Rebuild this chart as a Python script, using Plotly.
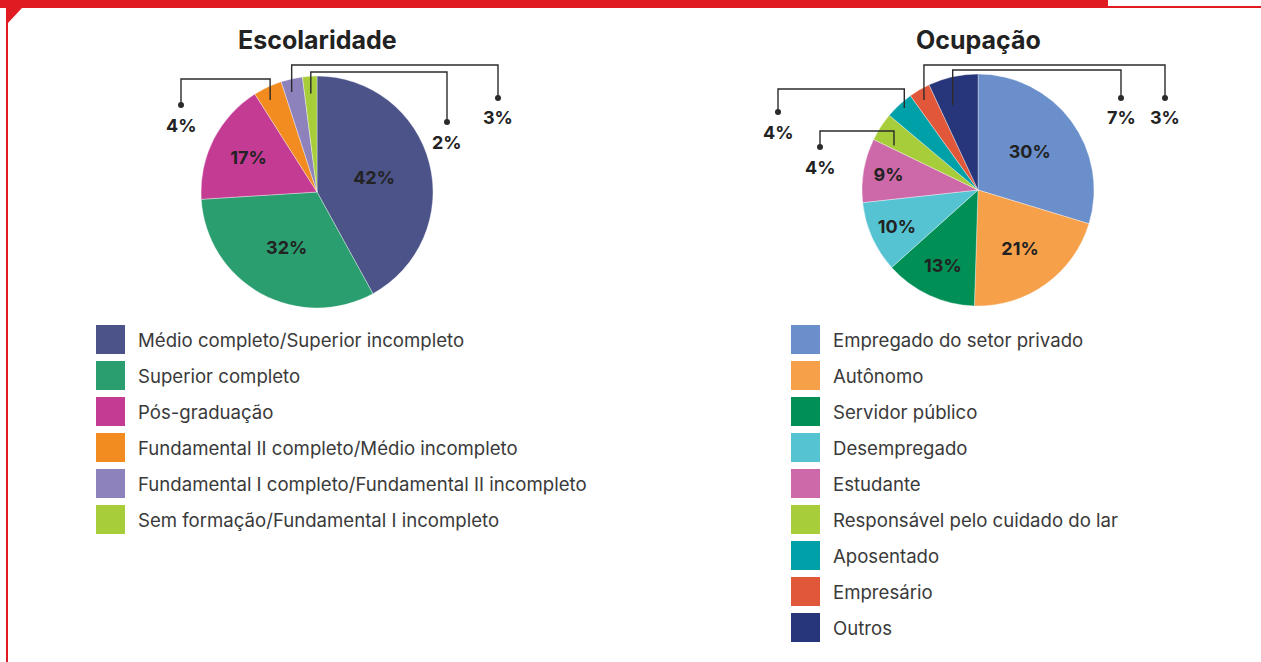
import math
import plotly.graph_objects as go

W, H = 1261, 662

# ---------------- data ----------------
esc_title = "Escolaridade"
esc_labels = [
    "Médio completo/Superior incompleto",
    "Superior completo",
    "Pós-graduação",
    "Fundamental II completo/Médio incompleto",
    "Fundamental I completo/Fundamental II incompleto",
    "Sem formação/Fundamental I incompleto",
]
esc_values = [42, 32, 17, 4, 3, 2]
esc_colors = ["#4C5389", "#2A9E6F", "#C43B94", "#F28B20", "#8E82BC", "#A8CD3A"]

ocu_title = "Ocupação"
ocu_labels = [
    "Empregado do setor privado",
    "Autônomo",
    "Servidor público",
    "Desempregado",
    "Estudante",
    "Responsável pelo cuidado do lar",
    "Aposentado",
    "Empresário",
    "Outros",
]
ocu_values = [30, 21, 13, 10, 9, 4, 4, 3, 7]
ocu_colors = ["#6A8FCB", "#F6A04A", "#008F55", "#55C3D1", "#CD69A8",
              "#A8CD3A", "#00A0A8", "#E0573A", "#27357A"]

# ---------------- layout styling ----------------
FONT = "Inter"
TXT = "#222222"
RED = "#E01B22"

# pie geometry (pixels)
esc_geo = dict(cx=317, cy=192, r=116)
ocu_geo = dict(cx=978, cy=190, r=116)

# outside-label callouts:
# index -> (anchor radius factor, anchor angle shift deg, elbow y, label x, dot y)
esc_callouts = {3: (0.89, -1.8, 79, 181, 105), 4: (0.89, -1.6, 65, 498, 98),
                5: (0.85, 0.0, 72, 447, 122)}
ocu_callouts = {8: (0.765, -4.1, 70, 1121, 98), 7: (0.905, -0.7, 65, 1165, 98),
                6: (0.95, 0.8, 89, 778, 112), 5: (0.82, -5.0, 131, 820, 147)}
INSIDE_MIN = 9


def X(px):
    return px / W


def Y(py):
    return 1 - py / H


fig = go.Figure()
shapes = []
annotations = []


def add_pie(labels, values, colors, geo, callouts, title, legend_x, legend_y):
    cx, cy, r = geo["cx"], geo["cy"], geo["r"]
    text = [f"{v}%" if v >= INSIDE_MIN else "" for v in values]
    fig.add_trace(go.Pie(
        labels=labels, values=values, sort=False, direction="clockwise", rotation=0,
        marker=dict(colors=colors, line=dict(color="rgba(255,255,255,0.6)", width=0.6)),
        text=text, textinfo="text", textposition="inside",
        insidetextorientation="horizontal",
        insidetextfont=dict(family=FONT, size=18, color=TXT, weight="bold"),
        domain=dict(x=[X(cx - r), X(cx + r)], y=[Y(cy + r), Y(cy - r)]),
        showlegend=False, hoverinfo="label+percent",
    ))
    # title
    annotations.append(dict(x=X(cx), y=Y(40), xref="paper", yref="paper", text=f"<b>{title}</b>",
                            showarrow=False, xanchor="center", yanchor="middle",
                            font=dict(family=FONT, size=25, color=TXT)))
    total = sum(values)
    cum = 0
    mids = []
    for v in values:
        mids.append((cum + v / 2) / total * 360)
        cum += v
    for i, (f, dth, ey, lx, dy) in callouts.items():
        th = math.radians(mids[i] + dth)
        ax = cx + f * r * math.sin(th)
        ay = cy - f * r * math.cos(th)
        shapes.append(dict(type="path", xref="paper", yref="paper",
                           path=f"M {X(ax)},{Y(ay)} L {X(ax)},{Y(ey)} L {X(lx)},{Y(ey)} L {X(lx)},{Y(dy)}",
                           line=dict(color="#2b2b2b", width=1.4)))
        shapes.append(dict(type="circle", xref="paper", yref="paper",
                           x0=X(lx - 3), x1=X(lx + 3), y0=Y(dy + 3), y1=Y(dy - 3),
                           fillcolor="#2b2b2b", line=dict(width=0)))
        annotations.append(dict(x=X(lx), y=Y(dy + 20), xref="paper", yref="paper",
                                text=f"<b>{values[i]}%</b>", showarrow=False,
                                xanchor="center", yanchor="middle",
                                font=dict(family=FONT, size=18, color=TXT)))
    # legend
    for k, (lab, col) in enumerate(zip(labels, colors)):
        top = legend_y + k * 36
        shapes.append(dict(type="rect", xref="paper", yref="paper",
                           x0=X(legend_x), x1=X(legend_x + 29), y0=Y(top + 29), y1=Y(top),
                           fillcolor=col, line=dict(width=0)))
        annotations.append(dict(x=X(legend_x + 40), y=Y(top + 14.5), xref="paper", yref="paper",
                                text=lab, showarrow=False, xanchor="left", yanchor="middle",
                                font=dict(family=FONT, size=18.6, color="#3a3a3a")))


add_pie(esc_labels, esc_values, esc_colors, esc_geo, esc_callouts, esc_title, 96, 325)
add_pie(ocu_labels, ocu_values, ocu_colors, ocu_geo, ocu_callouts, ocu_title, 791, 325)

# red frame decoration
shapes += [
    dict(type="rect", xref="paper", yref="paper", x0=X(0), x1=X(1108), y0=Y(6), y1=Y(0),
         fillcolor=RED, line=dict(width=0), layer="below"),
    dict(type="rect", xref="paper", yref="paper", x0=X(0), x1=X(W), y0=Y(8), y1=Y(6),
         fillcolor=RED, line=dict(width=0), layer="below"),
    dict(type="rect", xref="paper", yref="paper", x0=X(6), x1=X(8), y0=Y(H), y1=Y(0),
         fillcolor=RED, line=dict(width=0), layer="below"),
    dict(type="path", xref="paper", yref="paper",
         path=f"M {X(7)},{Y(8)} L {X(22)},{Y(8)} L {X(7)},{Y(24)} Z",
         fillcolor=RED, line=dict(width=0), layer="below"),
]

fig.update_layout(
    width=W, height=H, margin=dict(l=0, r=0, t=0, b=0),
    paper_bgcolor="white", plot_bgcolor="white",
    shapes=shapes, annotations=annotations, showlegend=False,
)

fig.write_html("out.html", config={"displayModeBar": False},
               post_script="document.body.style.margin='0';document.body.style.overflow='hidden';")
